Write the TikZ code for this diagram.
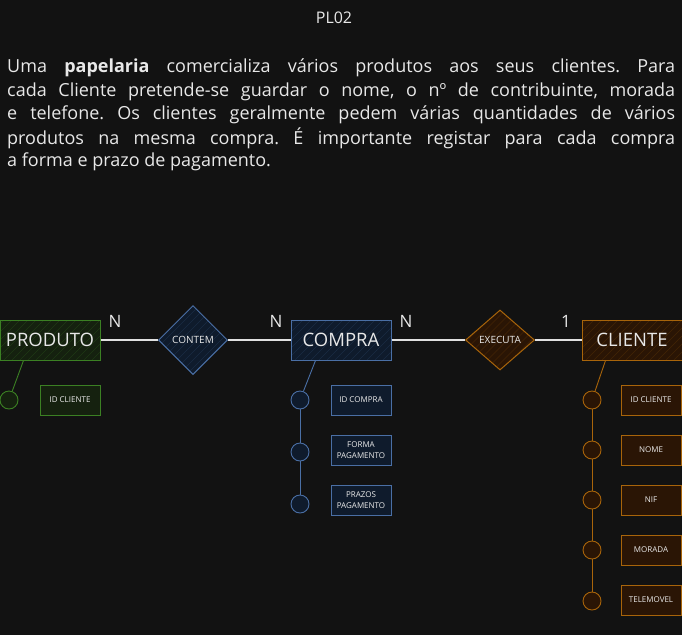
\documentclass[tikz,border=0pt]{standalone}
\usepackage{fontspec}
\setmainfont{Open Sans}
\usetikzlibrary{shapes.geometric,calc}
\definecolor{bg}{HTML}{121212}
\definecolor{txt}{HTML}{E8E8E8}
\definecolor{gstroke}{HTML}{3B8023}
\definecolor{gfill}{HTML}{15210F}
\definecolor{bstroke}{HTML}{4A6FA5}
\definecolor{bfill}{HTML}{0F1B2C}
\definecolor{ostroke}{HTML}{A8640A}
\definecolor{ofill}{HTML}{2A1505}
\definecolor{lnk}{HTML}{E0E0E0}
\tikzset{
  hatch/.style={path picture={\foreach \k in {-100,-92,...,100}{\draw[#1, line width=0.5pt] ($(path picture bounding box.south west)+(\k pt,0pt)$) -- ++(80pt,80pt);}}},
  entity/.style={draw, line width=1pt, minimum width=100pt, minimum height=40pt, inner sep=0pt, text=txt, font=\fontsize{18.5}{20}\selectfont},
  rel/.style={diamond, draw, line width=1pt, inner sep=0pt, minimum width=69pt, text=txt, font=\fontsize{10}{11}\selectfont},
  attr/.style={draw, line width=0.8pt, minimum width=60pt, minimum height=30pt, inner sep=1pt, align=center, text=txt!85, font=\fontsize{8}{11}\selectfont},
  dot/.style={circle, draw, line width=0.9pt, minimum size=18pt, inner sep=0pt},
  card/.style={text=txt, font=\fontsize{17}{19}\selectfont, inner sep=0pt},
  para/.style={anchor=west, inner sep=0pt, text=txt, font=\fontsize{18}{20}\selectfont\frenchspacing},
  link/.style={draw=lnk, line width=1.1pt},
}
\begin{document}
\begin{tikzpicture}[x=1pt,y=-1pt]
\fill[bg] (0,0) rectangle (682,635);
\useasboundingbox (0,0) rectangle (682,635);

\node[text=txt, font=\fontsize{16}{18}\selectfont, inner sep=0pt] (title) at (334,18) {PL02};

\node[para] (l1) at (7,68) {\makebox[668pt][s]{Uma \textbf{papelaria} comercializa vários produtos aos seus clientes. Para}};
\node[para] (l2) at (7,92) {\makebox[668pt][s]{cada Cliente pretende-se guardar o nome, o nº de contribuinte, morada}};
\node[para] (l3) at (7,115) {\makebox[668pt][s]{e telefone. Os clientes geralmente pedem várias quantidades de vários}};
\node[para] (l4) at (7,138) {\makebox[668pt][s]{produtos na mesma compra. É importante registar para cada compra}};
\node[para] (l5) at (7,162) {a forma e prazo de pagamento.};

% entities and relations
\node[entity, draw=gstroke, fill=gfill, hatch=gfill!75!gstroke] (produto) at (50,340) {PRODUTO};
\node[rel, draw=bstroke, fill=bfill, hatch=bfill!80!bstroke, minimum height=69pt] (contem) at (193,340) {CONTEM};
\node[entity, draw=bstroke, fill=bfill, hatch=bfill!80!bstroke] (compra) at (341,340) {COMPRA};
\node[rel, draw=ostroke, fill=ofill, hatch=ofill!80!ostroke, minimum height=60pt] (executa) at (500,340) {EXECUTA};
\node[entity, draw=ostroke, fill=ofill, hatch=ofill!80!ostroke] (cliente) at (632,340) {CLIENTE};

\draw[link] (produto) -- (contem);
\draw[link] (contem) -- (compra);
\draw[link] (compra) -- (executa);
\draw[link] (executa) -- (cliente);

\node[card] (n1) at (115,321) {N};
\node[card] (n2) at (276,321) {N};
\node[card] (n3) at (406,321) {N};
\node[card] (c1) at (566,321) {1};

% PRODUTO attributes
\node[dot, draw=gstroke, fill=gfill] (pd1) at (9,400) {};
\node[attr, draw=gstroke, fill=gfill] (pa1) at (70,400) {ID CLIENTE};
\draw[gstroke, line width=0.9pt] ($(produto.south west)+(24,0)$) -- (pd1);

% COMPRA attributes
\node[dot, draw=bstroke, fill=bfill] (cd1) at (300,400) {};
\node[dot, draw=bstroke, fill=bfill] (cd2) at (300,452) {};
\node[dot, draw=bstroke, fill=bfill] (cd3) at (300,504) {};
\node[attr, draw=bstroke, fill=bfill] (ca1) at (361,400) {ID COMPRA};
\node[attr, draw=bstroke, fill=bfill] (ca2) at (361,450) {FORMA\\PAGAMENTO};
\node[attr, draw=bstroke, fill=bfill] (ca3) at (361,500) {PRAZOS\\PAGAMENTO};
\draw[bstroke, line width=0.9pt] ($(compra.south west)+(25,0)$) -- (cd1);
\draw[bstroke, line width=0.9pt] (cd1) -- (cd2) -- (cd3);

% CLIENTE attributes
\node[dot, draw=ostroke, fill=ofill] (kd1) at (592,400) {};
\node[dot, draw=ostroke, fill=ofill] (kd2) at (592,450) {};
\node[dot, draw=ostroke, fill=ofill] (kd3) at (592,500) {};
\node[dot, draw=ostroke, fill=ofill] (kd4) at (592,550) {};
\node[dot, draw=ostroke, fill=ofill] (kd5) at (592,601) {};
\node[attr, draw=ostroke, fill=ofill] (ka1) at (651,400) {ID CLIENTE};
\node[attr, draw=ostroke, fill=ofill] (ka2) at (651,450) {NOME};
\node[attr, draw=ostroke, fill=ofill] (ka3) at (651,500) {NIF};
\node[attr, draw=ostroke, fill=ofill] (ka4) at (651,550) {MORADA};
\node[attr, draw=ostroke, fill=ofill] (ka5) at (651,600) {TELEMOVEL};
\draw[ostroke, line width=0.9pt] ($(cliente.south west)+(24,0)$) -- (kd1);
\draw[ostroke, line width=0.9pt] (kd1) -- (kd2) -- (kd3) -- (kd4) -- (kd5);
\end{tikzpicture}
\end{document}
